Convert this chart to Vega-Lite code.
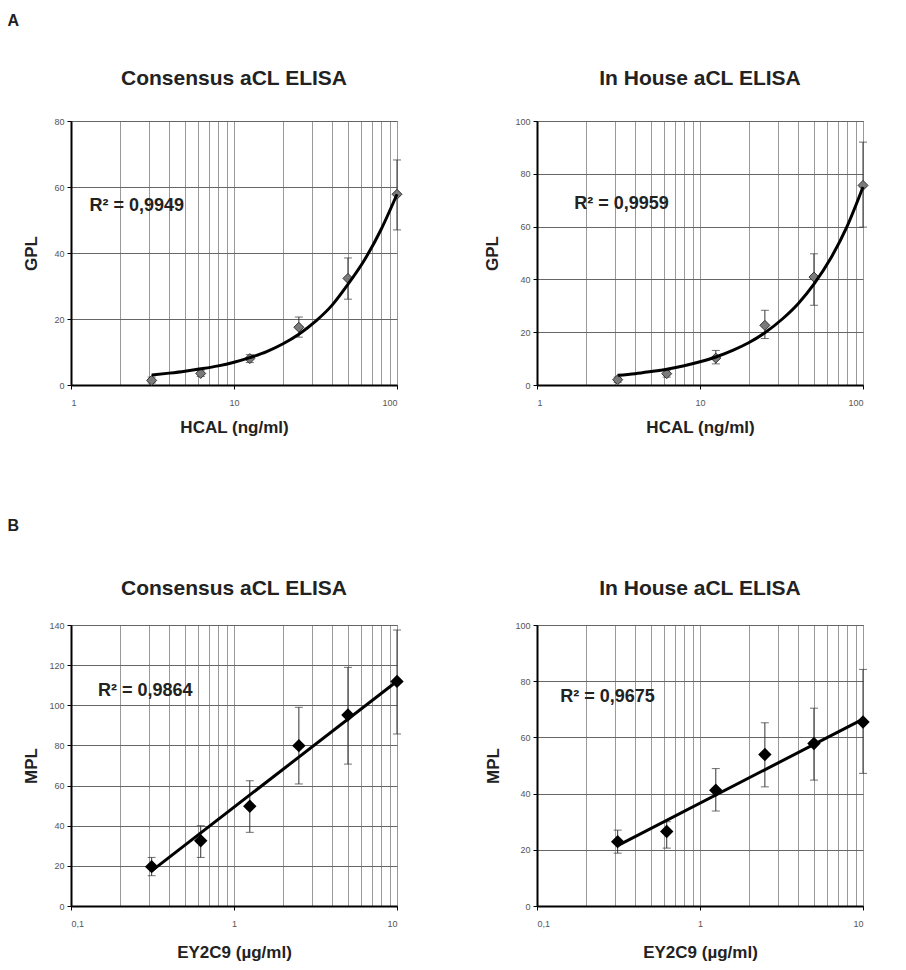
{
  "$schema": "https://vega.github.io/schema/vega-lite/v6.json",
  "background": "white",
  "padding": {"left": 7, "top": 12, "right": 5, "bottom": 5},
  "datasets": {
    "a1_pts": [
      {"conc": 3.125, "val": 1.4, "lo": 0.6, "hi": 2.4},
      {"conc": 6.25, "val": 3.5, "lo": 2.6, "hi": 4.5},
      {"conc": 12.5, "val": 8.0, "lo": 6.8, "hi": 9.2},
      {"conc": 25, "val": 17.5, "lo": 14.5, "hi": 20.6},
      {"conc": 50, "val": 32.3, "lo": 26, "hi": 38.5},
      {"conc": 100, "val": 57.8, "lo": 47, "hi": 68.2}
    ],
    "a1_fit": [
      {"conc": 3.125, "val": 3.0}, {"conc": 4, "val": 3.6}, {"conc": 5, "val": 4.2},
      {"conc": 6.25, "val": 4.9}, {"conc": 8, "val": 5.8}, {"conc": 10, "val": 6.9},
      {"conc": 12.5, "val": 8.3}, {"conc": 16, "val": 10.2}, {"conc": 20, "val": 12.5},
      {"conc": 25, "val": 15.4}, {"conc": 32, "val": 19.5}, {"conc": 40, "val": 24.2},
      {"conc": 50, "val": 30.5}, {"conc": 63, "val": 37.8}, {"conc": 80, "val": 47.2},
      {"conc": 100, "val": 57.8}
    ],
    "a1_lab": [{"conc": 1.3, "val": 54.3, "label": "R² = 0,9949"}],
    "a2_pts": [
      {"conc": 3.125, "val": 2.0, "lo": 1.0, "hi": 3.0},
      {"conc": 6.25, "val": 4.3, "lo": 3.0, "hi": 5.6},
      {"conc": 12.5, "val": 10.2, "lo": 8.0, "hi": 13.1},
      {"conc": 25, "val": 22.6, "lo": 17.6, "hi": 28.3},
      {"conc": 50, "val": 40.9, "lo": 30.2, "hi": 49.7},
      {"conc": 100, "val": 75.6, "lo": 59.8, "hi": 92}
    ],
    "a2_fit": [
      {"conc": 3.125, "val": 3.7}, {"conc": 4, "val": 4.3}, {"conc": 5, "val": 5.1},
      {"conc": 6.25, "val": 6.0}, {"conc": 8, "val": 7.3}, {"conc": 10, "val": 8.8},
      {"conc": 12.5, "val": 10.6}, {"conc": 16, "val": 13.2}, {"conc": 20, "val": 16.1},
      {"conc": 25, "val": 19.8}, {"conc": 32, "val": 25.0}, {"conc": 40, "val": 30.8},
      {"conc": 50, "val": 38.2}, {"conc": 63, "val": 47.7}, {"conc": 80, "val": 60.2},
      {"conc": 100, "val": 75.0}
    ],
    "a2_lab": [{"conc": 1.69, "val": 68.6, "label": "R² = 0,9959"}],
    "b1_pts": [
      {"conc": 0.3125, "val": 19.6, "lo": 15.1, "hi": 24.2},
      {"conc": 0.625, "val": 32.5, "lo": 24.2, "hi": 40},
      {"conc": 1.25, "val": 49.7, "lo": 36.7, "hi": 62.4},
      {"conc": 2.5, "val": 79.9, "lo": 60.8, "hi": 99},
      {"conc": 5, "val": 95.2, "lo": 70.7, "hi": 118.9},
      {"conc": 10, "val": 111.9, "lo": 85.7, "hi": 137.5}
    ],
    "b1_fit": [{"conc": 0.3125, "val": 17.5}, {"conc": 10, "val": 112}],
    "b1_lab": [{"conc": 0.1465, "val": 107.3, "label": "R² = 0,9864"}],
    "b2_pts": [
      {"conc": 0.3125, "val": 22.9, "lo": 18.8, "hi": 27},
      {"conc": 0.625, "val": 26.5, "lo": 20.6, "hi": 30},
      {"conc": 1.25, "val": 41.2, "lo": 33.8, "hi": 48.9},
      {"conc": 2.5, "val": 53.9, "lo": 42.4, "hi": 65.2},
      {"conc": 5, "val": 57.8, "lo": 44.8, "hi": 70.4},
      {"conc": 10, "val": 65.5, "lo": 47.2, "hi": 84.2}
    ],
    "b2_fit": [{"conc": 0.3125, "val": 21.5}, {"conc": 10, "val": 66.5}],
    "b2_lab": [{"conc": 0.139, "val": 74.4, "label": "R² = 0,9675"}]
  },
  "spacing": 81,
  "vconcat": [
    {
      "title": {"text": "A", "anchor": "start", "fontSize": 16, "fontWeight": "bold", "offset": 39, "dx": -14, "color": "#222"},
      "bounds": "flush",
      "spacing": 140,
      "hconcat": [
        {
          "width": 326, "height": 264,
          "title": {"text": "Consensus aCL ELISA", "offset": 28},
          "layer": [
            {"data": {"name": "a1_pts"}, "mark": {"type": "rule", "color": "#333", "strokeWidth": 1},
             "encoding": {
               "x": {"field": "conc", "type": "quantitative", "scale": {"type": "log", "domain": [1, 100], "nice": false},
                 "axis": {"title": "HCAL (ng/ml)", "values": [1,2,3,4,5,6,7,8,9,10,20,30,40,50,60,70,80,90,100], "format": "~g",
                   "labelExpr": "indexof([1,10,100], datum.value) >= 0 ? datum.label : ''",
                   "tickOpacity": {"condition": {"test": "indexof([1,10,100], datum.value) >= 0", "value": 1}, "value": 0},
                   "titlePadding": 12}},
               "y": {"field": "lo", "type": "quantitative", "scale": {"domain": [0, 80], "nice": false},
                 "axis": {"title": "GPL", "values": [0,20,40,60,80], "titlePadding": 11}},
               "y2": {"field": "hi"}}},
            {"data": {"name": "a1_pts"}, "mark": {"type": "tick", "orient": "horizontal", "size": 8, "thickness": 1, "color": "#333"},
             "encoding": {"x": {"field": "conc", "type": "quantitative"}, "y": {"field": "lo", "type": "quantitative"}}},
            {"data": {"name": "a1_pts"}, "mark": {"type": "tick", "orient": "horizontal", "size": 8, "thickness": 1, "color": "#333"},
             "encoding": {"x": {"field": "conc", "type": "quantitative"}, "y": {"field": "hi", "type": "quantitative"}}},
            {"data": {"name": "a1_pts"}, "mark": {"type": "point", "shape": "diamond", "filled": true, "size": 100, "color": "#7a7a7a", "stroke": "#333", "strokeWidth": 1, "opacity": 1},
             "encoding": {"x": {"field": "conc", "type": "quantitative"}, "y": {"field": "val", "type": "quantitative"}}},
            {"data": {"name": "a1_fit"}, "mark": {"type": "line", "color": "#000", "strokeWidth": 3, "interpolate": "monotone"},
             "encoding": {"x": {"field": "conc", "type": "quantitative"}, "y": {"field": "val", "type": "quantitative"}}},
            {"data": {"name": "a1_lab"}, "mark": {"type": "text", "align": "left", "baseline": "middle", "fontSize": 18, "fontWeight": "bold", "color": "#222"},
             "encoding": {"x": {"field": "conc", "type": "quantitative"}, "y": {"field": "val", "type": "quantitative"}, "text": {"field": "label"}}}
          ]
        },
        {
          "width": 326, "height": 264,
          "title": {"text": "In House aCL ELISA", "offset": 28},
          "layer": [
            {"data": {"name": "a2_pts"}, "mark": {"type": "rule", "color": "#333", "strokeWidth": 1},
             "encoding": {
               "x": {"field": "conc", "type": "quantitative", "scale": {"type": "log", "domain": [1, 100], "nice": false},
                 "axis": {"title": "HCAL (ng/ml)", "values": [1,2,3,4,5,6,7,8,9,10,20,30,40,50,60,70,80,90,100], "format": "~g",
                   "labelExpr": "indexof([1,10,100], datum.value) >= 0 ? datum.label : ''",
                   "tickOpacity": {"condition": {"test": "indexof([1,10,100], datum.value) >= 0", "value": 1}, "value": 0},
                   "titlePadding": 12}},
               "y": {"field": "lo", "type": "quantitative", "scale": {"domain": [0, 100], "nice": false},
                 "axis": {"title": "GPL", "values": [0,20,40,60,80,100], "titlePadding": 16}},
               "y2": {"field": "hi"}}},
            {"data": {"name": "a2_pts"}, "mark": {"type": "tick", "orient": "horizontal", "size": 8, "thickness": 1, "color": "#333"},
             "encoding": {"x": {"field": "conc", "type": "quantitative"}, "y": {"field": "lo", "type": "quantitative"}}},
            {"data": {"name": "a2_pts"}, "mark": {"type": "tick", "orient": "horizontal", "size": 8, "thickness": 1, "color": "#333"},
             "encoding": {"x": {"field": "conc", "type": "quantitative"}, "y": {"field": "hi", "type": "quantitative"}}},
            {"data": {"name": "a2_pts"}, "mark": {"type": "point", "shape": "diamond", "filled": true, "size": 100, "color": "#7a7a7a", "stroke": "#333", "strokeWidth": 1, "opacity": 1},
             "encoding": {"x": {"field": "conc", "type": "quantitative"}, "y": {"field": "val", "type": "quantitative"}}},
            {"data": {"name": "a2_fit"}, "mark": {"type": "line", "color": "#000", "strokeWidth": 3, "interpolate": "monotone"},
             "encoding": {"x": {"field": "conc", "type": "quantitative"}, "y": {"field": "val", "type": "quantitative"}}},
            {"data": {"name": "a2_lab"}, "mark": {"type": "text", "align": "left", "baseline": "middle", "fontSize": 18, "fontWeight": "bold", "color": "#222"},
             "encoding": {"x": {"field": "conc", "type": "quantitative"}, "y": {"field": "val", "type": "quantitative"}, "text": {"field": "label"}}}
          ]
        }
      ]
    },
    {
      "title": {"text": "B", "anchor": "start", "fontSize": 16, "fontWeight": "bold", "offset": 44, "dx": -14, "color": "#222"},
      "bounds": "flush",
      "spacing": 140,
      "hconcat": [
        {
          "width": 326, "height": 281,
          "title": {"text": "Consensus aCL ELISA", "offset": 22},
          "layer": [
            {"data": {"name": "b1_pts"}, "mark": {"type": "rule", "color": "#333", "strokeWidth": 1},
             "encoding": {
               "x": {"field": "conc", "type": "quantitative", "scale": {"type": "log", "domain": [0.1, 10], "nice": false},
                 "axis": {"title": "EY2C9 (µg/ml)", "values": [0.1,0.2,0.3,0.4,0.5,0.6,0.7,0.8,0.9,1,2,3,4,5,6,7,8,9,10], "format": "~g",
                   "labelExpr": "indexof([0.1,1,10], datum.value) >= 0 ? replace(datum.label, '.', ',') : ''",
                   "tickOpacity": {"condition": {"test": "indexof([0.1,1,10], datum.value) >= 0", "value": 1}, "value": 0},
                   "titlePadding": 16}},
               "y": {"field": "lo", "type": "quantitative", "scale": {"domain": [0, 140], "nice": false},
                 "axis": {"title": "MPL", "values": [0,20,40,60,80,100,120,140], "titlePadding": 11}},
               "y2": {"field": "hi"}}},
            {"data": {"name": "b1_pts"}, "mark": {"type": "tick", "orient": "horizontal", "size": 8, "thickness": 1, "color": "#333"},
             "encoding": {"x": {"field": "conc", "type": "quantitative"}, "y": {"field": "lo", "type": "quantitative"}}},
            {"data": {"name": "b1_pts"}, "mark": {"type": "tick", "orient": "horizontal", "size": 8, "thickness": 1, "color": "#333"},
             "encoding": {"x": {"field": "conc", "type": "quantitative"}, "y": {"field": "hi", "type": "quantitative"}}},
            {"data": {"name": "b1_fit"}, "mark": {"type": "line", "color": "#000", "strokeWidth": 3},
             "encoding": {"x": {"field": "conc", "type": "quantitative"}, "y": {"field": "val", "type": "quantitative"}}},
            {"data": {"name": "b1_pts"}, "mark": {"type": "point", "shape": "diamond", "filled": true, "size": 180, "color": "#000", "opacity": 1},
             "encoding": {"x": {"field": "conc", "type": "quantitative"}, "y": {"field": "val", "type": "quantitative"}}},
            {"data": {"name": "b1_lab"}, "mark": {"type": "text", "align": "left", "baseline": "middle", "fontSize": 18, "fontWeight": "bold", "color": "#222"},
             "encoding": {"x": {"field": "conc", "type": "quantitative"}, "y": {"field": "val", "type": "quantitative"}, "text": {"field": "label"}}}
          ]
        },
        {
          "width": 326, "height": 281,
          "title": {"text": "In House aCL ELISA", "offset": 22},
          "layer": [
            {"data": {"name": "b2_pts"}, "mark": {"type": "rule", "color": "#333", "strokeWidth": 1},
             "encoding": {
               "x": {"field": "conc", "type": "quantitative", "scale": {"type": "log", "domain": [0.1, 10], "nice": false},
                 "axis": {"title": "EY2C9 (µg/ml)", "values": [0.1,0.2,0.3,0.4,0.5,0.6,0.7,0.8,0.9,1,2,3,4,5,6,7,8,9,10], "format": "~g",
                   "labelExpr": "indexof([0.1,1,10], datum.value) >= 0 ? replace(datum.label, '.', ',') : ''",
                   "tickOpacity": {"condition": {"test": "indexof([0.1,1,10], datum.value) >= 0", "value": 1}, "value": 0},
                   "titlePadding": 16}},
               "y": {"field": "lo", "type": "quantitative", "scale": {"domain": [0, 100], "nice": false},
                 "axis": {"title": "MPL", "values": [0,20,40,60,80,100], "titlePadding": 15}},
               "y2": {"field": "hi"}}},
            {"data": {"name": "b2_pts"}, "mark": {"type": "tick", "orient": "horizontal", "size": 8, "thickness": 1, "color": "#333"},
             "encoding": {"x": {"field": "conc", "type": "quantitative"}, "y": {"field": "lo", "type": "quantitative"}}},
            {"data": {"name": "b2_pts"}, "mark": {"type": "tick", "orient": "horizontal", "size": 8, "thickness": 1, "color": "#333"},
             "encoding": {"x": {"field": "conc", "type": "quantitative"}, "y": {"field": "hi", "type": "quantitative"}}},
            {"data": {"name": "b2_fit"}, "mark": {"type": "line", "color": "#000", "strokeWidth": 3},
             "encoding": {"x": {"field": "conc", "type": "quantitative"}, "y": {"field": "val", "type": "quantitative"}}},
            {"data": {"name": "b2_pts"}, "mark": {"type": "point", "shape": "diamond", "filled": true, "size": 180, "color": "#000", "opacity": 1},
             "encoding": {"x": {"field": "conc", "type": "quantitative"}, "y": {"field": "val", "type": "quantitative"}}},
            {"data": {"name": "b2_lab"}, "mark": {"type": "text", "align": "left", "baseline": "middle", "fontSize": 18, "fontWeight": "bold", "color": "#222"},
             "encoding": {"x": {"field": "conc", "type": "quantitative"}, "y": {"field": "val", "type": "quantitative"}, "text": {"field": "label"}}}
          ]
        }
      ]
    }
  ],
  "config": {
    "font": "Liberation Sans",
    "view": {"stroke": "#555", "strokeWidth": 1},
    "title": {"font": "Liberation Sans", "fontSize": 21, "fontWeight": "bold", "color": "#222", "anchor": "middle"},
    "axis": {
      "labelFont": "Liberation Sans", "labelFontSize": 9, "labelColor": "#555",
      "titleFont": "Liberation Sans", "titleFontSize": 17, "titleFontWeight": "bold", "titleColor": "#222",
      "domainColor": "#000", "domainWidth": 2, "gridColor": "#999", "gridWidth": 1,
      "tickColor": "#000", "tickSize": 4
    },
    "axisX": {"labelPadding": 9, "labelAngle": 0},
    "axisY": {"labelPadding": 3, "gridColor": "#666", "minExtent": 20, "maxExtent": 20}
  }
}
